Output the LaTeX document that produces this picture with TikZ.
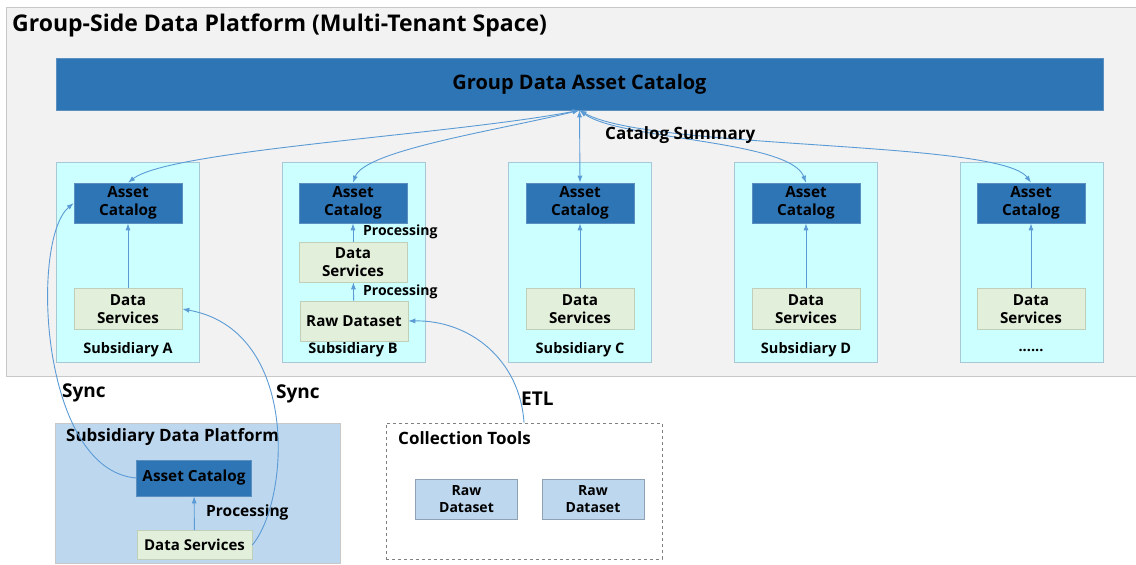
\documentclass[tikz,border=0pt]{standalone}
\usepackage{fontspec}
\setmainfont{Open Sans}
\usetikzlibrary{arrows.meta}
\definecolor{bgfill}{HTML}{F2F2F2}
\definecolor{bgline}{HTML}{C8C8C8}
\definecolor{catblue}{HTML}{2E75B6}
\definecolor{catline}{HTML}{5A8FC0}
\definecolor{subfill}{HTML}{CCFFFF}
\definecolor{subline}{HTML}{A8C8D8}
\definecolor{dsfill}{HTML}{E2EFDA}
\definecolor{dsline}{HTML}{C0D0B8}
\definecolor{ltblue}{HTML}{BDD7EE}
\definecolor{ltline}{HTML}{8FA2B4}
\definecolor{arrc}{HTML}{5B9BD5}
\begin{document}
\begin{tikzpicture}[x=1pt,y=-1pt,
  every node/.style={inner sep=0pt, align=center, font=\bfseries},
  bx/.style={draw, rectangle, line width=0.6pt},
  acat/.style={bx, fill=catblue, draw=catline, minimum width=108pt, minimum height=40pt, font=\bfseries\fontsize{15.3}{17.5}\selectfont},
  dsv/.style={bx, fill=dsfill, draw=dsline, minimum width=108pt, minimum height=40pt, font=\bfseries\fontsize{15.2}{17.5}\selectfont},
  subbox/.style={bx, fill=subfill, draw=subline, minimum width=143pt, minimum height=200pt},
  sublbl/.style={font=\bfseries\fontsize{14.5}{16}\selectfont},
  proc/.style={font=\bfseries\fontsize{14}{16}\selectfont, anchor=west},
  big/.style={font=\bfseries\fontsize{17}{19}\selectfont, anchor=west},
  arr/.style={draw=arrc, line width=0.9pt, -{Latex[length=7pt,width=5pt]}},
  biarr/.style={draw=arrc, line width=0.9pt, {Latex[length=7pt,width=5pt]}-{Latex[length=7pt,width=5pt]}},
  rawc/.style={bx, fill=ltblue, draw=ltline, minimum width=102pt, minimum height=40pt, font=\bfseries\fontsize{14}{16.5}\selectfont}
]
\useasboundingbox (0,0) rectangle (1136,565);
\fill[white] (0,0) rectangle (1136,565);
% group platform
\node[bx, fill=bgfill, draw=bgline, minimum width=1130pt, minimum height=369pt] (grp) at (571,191.5) {};
\node[anchor=west, font=\bfseries\fontsize{23}{26}\selectfont] (title) at (12,25) {Group-Side Data Platform (Multi-Tenant Space)};
\node[bx, fill=catblue, draw=catline, minimum width=1047pt, minimum height=52pt, font=\bfseries\fontsize{20}{23}\selectfont] (cat) at (579.5,84) {Group Data Asset Catalog};
\coordinate (hub) at (cat.south);
% subsidiary boxes
\node[subbox] (sA) at (127.5,262) {};
\node[subbox] (sB) at (354,262) {};
\node[subbox] (sC) at (580,262) {};
\node[subbox] (sD) at (806,262) {};
\node[subbox] (sE) at (1031.5,262) {};
\node[sublbl] (lA) at (128,350) {Subsidiary A};
\node[sublbl] (lB) at (353,350) {Subsidiary B};
\node[sublbl] (lC) at (580,350) {Subsidiary C};
\node[sublbl] (lD) at (806,350) {Subsidiary D};
\node[sublbl] (lE) at (1031,350) {......};
% asset catalogs
\node[acat] (acA) at (128,203) {Asset\\Catalog};
\node[acat] (acB) at (353,203) {Asset\\Catalog};
\node[acat] (acC) at (580,203) {Asset\\Catalog};
\node[acat] (acD) at (806,203) {Asset\\Catalog};
\node[acat] (acE) at (1031,203) {Asset\\Catalog};
% data services
\node[dsv, minimum height=41pt] (dsA) at (128,309) {Data\\Services};
\node[dsv] (dsB) at (353,262) {Data\\Services};
\node[dsv] (rawB) at (354,321) {Raw Dataset};
\node[dsv, minimum height=41pt] (dsC) at (580,309) {Data\\Services};
\node[dsv, minimum height=41pt] (dsD) at (806,309) {Data\\Services};
\node[dsv, minimum height=41pt] (dsE) at (1031,309) {Data\\Services};
% inner arrows
\draw[arr] (dsA) -- (acA);
\draw[arr] (dsB) -- (acB);
\draw[arr] (rawB) -- (dsB);
\draw[arr] (dsC) -- (acC);
\draw[arr] (dsD) -- (acD);
\draw[arr] (dsE) -- (acE);
\node[proc] (p1) at (363,232) {Processing};
\node[proc] (p2) at (363,292) {Processing};
% catalog summary arrows
\draw[biarr] (hub) .. controls (450,135) and (170,150) .. (acA.north);
\draw[biarr] (hub) .. controls (500,130) and (365,150) .. (acB.north);
\draw[biarr] (hub) -- (acC.north);
\draw[biarr] (hub) .. controls (620,140) and (790,140) .. (acD.north);
\draw[biarr] (hub) .. controls (650,150) and (1000,140) .. (acE.north);
\node[big] (cs) at (605,135) {Catalog Summary};
% subsidiary data platform
\node[bx, fill=ltblue, draw=bgline, minimum width=285pt, minimum height=140pt] (sdp) at (197.5,493) {};
\node[big] (sdpt) at (66,437) {Subsidiary Data Platform};
\node[acat, minimum width=115pt, minimum height=36pt] (acS) at (194,478) {Asset Catalog};
\node[dsv, minimum width=115pt, minimum height=29pt, font=\bfseries\fontsize{15}{17}\selectfont] (dsS) at (194.5,545) {Data Services};
\draw[arr] (dsS) -- (acS);
\node[proc, font=\bfseries\fontsize{15.5}{17}\selectfont] (p3) at (206,512) {Processing};
% collection tools
\node[bx, dashed, draw=gray, fill=white, minimum width=276pt, minimum height=136pt] (col) at (524,491) {};
\node[big] (colt) at (398,438) {Collection Tools};
\node[rawc] (r1) at (466.5,499) {Raw\\Dataset};
\node[rawc] (r2) at (593,499) {Raw\\Dataset};
% sync and etl
\draw[arr] (acS.west) .. controls (40,470) and (30,240) .. (acA.west);
\draw[arr] (dsS.east) .. controls (290,500) and (300,330) .. (dsA.east);
\draw[arr] (col.north) .. controls (520,360) and (470,320) .. (rawB.east);
\node[big, font=\bfseries\fontsize{19}{21}\selectfont] (sy1) at (62,393) {Sync};
\node[big, font=\bfseries\fontsize{19}{21}\selectfont] (sy2) at (276,394) {Sync};
\node[big, font=\bfseries\fontsize{19}{21}\selectfont] (etl) at (521,399) {ETL};
\end{tikzpicture}
\end{document}
